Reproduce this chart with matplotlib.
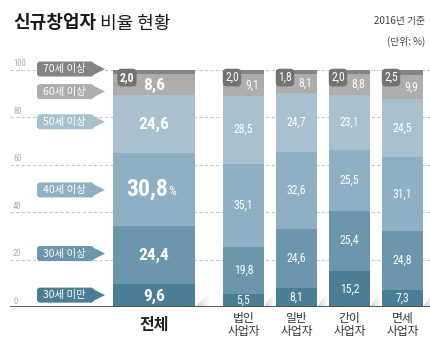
import matplotlib
matplotlib.use('Agg')
import matplotlib.pyplot as plt
from matplotlib import font_manager
from matplotlib.patches import FancyBboxPatch, Polygon
import numpy as np

# data (bottom -> top of each stacked bar)
groups = ['전체', '법인\n사업자', '일반\n사업자', '간이\n사업자', '면세\n사업자']
ages = ['30세 미만', '30세 이상', '40세 이상', '50세 이상', '60세 이상', '70세 이상']
share_u30 = [9.6, 5.5, 8.1, 15.2, 7.3]
share_30 = [24.4, 19.8, 24.6, 25.4, 24.8]
share_40 = [30.8, 35.1, 32.6, 25.5, 31.1]
share_50 = [24.6, 28.5, 24.7, 23.1, 24.5]
share_60 = [8.6, 9.1, 8.1, 8.8, 9.9]
share_70 = [2.0, 2.0, 1.8, 2.0, 2.5]
yticks = [0, 20, 40, 60, 80, 100]

series = [share_u30, share_30, share_40, share_50, share_60, share_70]
colors = ['#4a7e95', '#6b96ab', '#8fb0c2', '#a9c1ce', '#adadad', '#848484']

# layout (x in pixels, y in percent)
bar_x = [154, 243.5, 296.5, 349.5, 402.5]
bar_w = [82, 41, 41, 41, 41]
tag_y = [5.0, 22.5, 49.3, 78.0, 90.7, 100.2]
k = 100 / 237.5  # percent per pixel

avail = {f.name for f in font_manager.fontManager.ttflist}
num_font = next((f for f in ['Liberation Sans Narrow', 'Roboto Condensed', 'Roboto']
                 if f in avail), 'DejaVu Sans')
kr = ['Noto Sans CJK KR', 'DejaVu Sans']


def fmt(v):
    return f'{v:.1f}'.replace('.', ',')


fig = plt.figure(figsize=(4.3, 3.38), dpi=100)
ax = fig.add_axes([0, 31 / 338, 1, 237.5 / 338])
ax.set_axis_off()

# grid + baseline
ax.hlines(yticks[1:], 10, 430, colors='#c8c8c8', linestyles=(0, (3, 2)), lw=0.8, zorder=1)
ax.hlines(0, 10, 430, colors='#4d4d4d', lw=1.3, zorder=5)
for v in yticks:
    ax.text(13, v + 2.4, str(v), fontsize=6.2, color='#aaaaaa', ha='left', va='center',
            family=num_font)

# stacked bars
bottom = np.zeros(len(groups))
for vals, c in zip(series, colors):
    ax.bar(bar_x, vals, bottom=bottom, width=bar_w, color=c, lw=0, zorder=3)
    bottom += np.array(vals)

# shadows at the bar feet
for x, w in zip(bar_x, bar_w):
    xr = x + w / 2
    L = 16 if w > 60 else 11
    H = 16 * k
    tri = Polygon([(xr, 0), (xr + L, H), (xr + L, 0)], closed=True, fc='none', ec='none')
    ax.add_patch(tri)
    grad = np.zeros((20, 40, 4))
    grad[..., :3] = 0.45
    grad[..., 3] = np.linspace(0.4, 0.0, 40)[None, :] * np.linspace(1, 0.5, 20)[:, None]
    im = ax.imshow(grad, extent=(xr, xr + L, 0, H), origin='lower', aspect='auto', zorder=2)
    im.set_clip_path(tri)

# value labels
for i, (x, w) in enumerate(zip(bar_x, bar_w)):
    base = 0
    for j, vals in enumerate(series):
        v = vals[i]
        mid = base + v / 2
        if j == 5:
            bx = x - w / 2 + (14 if i == 0 else 9)
            ax.text(bx, 96.6, fmt(v), fontsize=8.5, color='white', ha='center', va='center',
                    family=num_font, fontweight='bold' if i == 0 else 'normal', zorder=6,
                    bbox=dict(boxstyle='round,pad=0.2,rounding_size=0.35', fc='#737373', ec='none'))
        elif i == 0:
            if j == 2:
                t = ax.text(x + 14, mid, fmt(v), fontsize=17, color='white', ha='right',
                            va='center', family=num_font, fontweight='bold', zorder=6)
                ax.annotate('%', xy=(1, 0.12), xycoords=t, fontsize=9, color='white',
                            ha='left', va='bottom', family=num_font, zorder=6)
            else:
                ax.text(x, mid - 0.3, fmt(v), fontsize=12.5, color='white', ha='center',
                        va='center', family=num_font, fontweight='bold', zorder=6)
        else:
            dx = 8.5 if j == 4 else 0
            ax.text(x + dx, mid, fmt(v), fontsize=8.5, color='white', ha='center',
                    va='center', family=num_font, zorder=6)
        base += v

# category tags
th = 15 * k
for age, y, c in zip(ages, tag_y, colors):
    box = FancyBboxPatch((37, y - th / 2), 57, th,
                         boxstyle='round,pad=0,rounding_size=3', mutation_aspect=k,
                         fc=c, ec='none', zorder=4, clip_on=False)
    ax.add_patch(box)
    ax.add_patch(Polygon([(90, y - th / 2), (105, y), (90, y + th / 2)], closed=True,
                         fc=c, ec='none', zorder=4, clip_on=False))
    ax.text(43, y, age, fontsize=7.5, color='white', ha='left', va='center',
            family=kr, zorder=5)

# x labels
for i, (x, g) in enumerate(zip(bar_x, groups)):
    if i == 0:
        ax.text(x, -7.6, g, fontsize=11.5, fontweight='bold', color='#222222',
                ha='center', va='center', family=kr)
    else:
        ax.text(x, -7.6, g, fontsize=8.5, color='#333333', ha='center', va='center',
                family=kr, linespacing=1.05)

ax.set_xlim(0, 430)
ax.set_ylim(0, 100)

# title and notes
t1 = fig.text(13 / 430, 1 - 23 / 338, '신규창업자', fontsize=13, fontweight='bold',
              color='#1a1a1a', ha='left', va='center', family=kr)
ax.annotate(' 비율 현황', xy=(1, 0), xycoords=t1, fontsize=13, color='#1a1a1a',
            ha='left', va='bottom', family=kr, annotation_clip=False)
fig.text(425 / 430, 1 - 21 / 338, '2016년 기준', fontsize=7, color='#444444',
         ha='right', va='center', family=kr)
fig.text(425 / 430, 1 - 41.5 / 338, '(단위: %)', fontsize=7, color='#444444',
         ha='right', va='center', family=kr)

fig.savefig('out.png', dpi=100)
